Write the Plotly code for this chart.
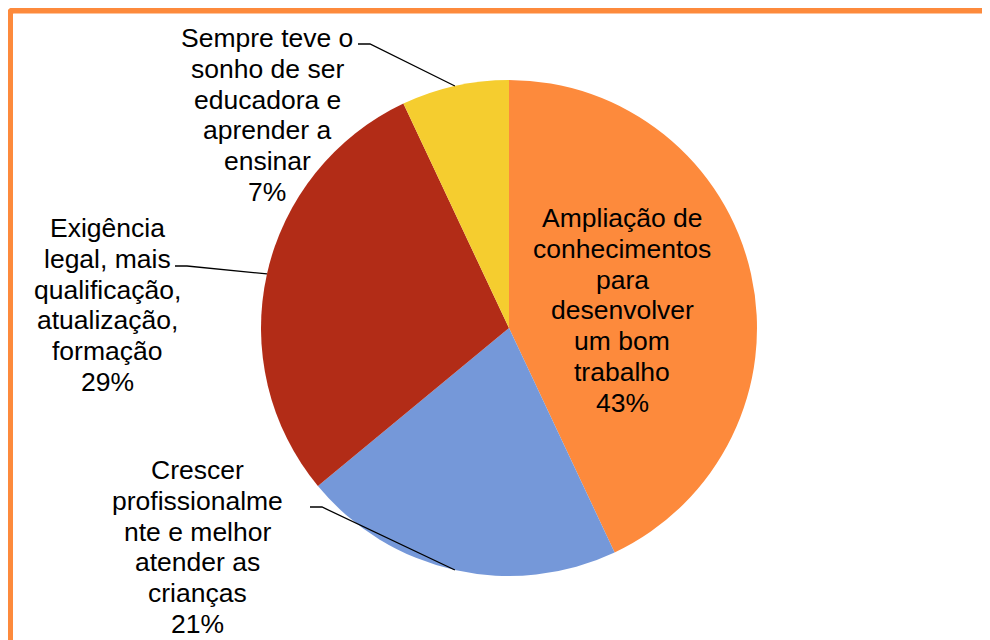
import math
import plotly.graph_objects as go

# ---- data ----
labels = [
    "Ampliação de conhecimentos para desenvolver um bom trabalho",
    "Crescer profissionalmente e melhor atender as crianças",
    "Exigência legal, mais qualificação, atualização, formação",
    "Sempre teve o sonho de ser educadora e aprender a ensinar",
]
values = [43, 21, 29, 7]
label_lines = [
    ["Ampliação de", "conhecimentos", "para", "desenvolver", "um bom", "trabalho"],
    ["Crescer", "profissionalme", "nte e melhor", "atender as", "crianças"],
    ["Exigência", "legal, mais", "qualificação,", "atualização,", "formação"],
    ["Sempre teve o", "sonho de ser", "educadora e", "aprender a", "ensinar"],
]
colors = ["#FD8A3C", "#7598D9", "#B22C17", "#F5CD2F"]

W, H = 990, 640
OFF = 8  # page body margin in the browser
CX, CY, R = 509, 328, 248

def px(x):
    return (x - OFF) / W

def py(y):
    return 1 - (y - OFF) / H

fig = go.Figure(go.Pie(
    labels=labels, values=values, sort=False, direction="clockwise",
    rotation=0, marker=dict(colors=colors, line=dict(width=0)),
    textinfo="none", hoverinfo="label+percent", showlegend=False,
    domain=dict(x=[px(CX - R), px(CX + R)], y=[py(CY + R), py(CY - R)]),
))

placement = [
    dict(x=622, y=218),
    dict(x=197, y=470),
    dict(x=107, y=228),
    dict(x=267, y=38),
]
leader_start = {1: (310, 507), 2: (175, 266), 3: (358, 44)}
LS = 30.8
FS = 26.5

total = sum(values)
annotations = []
shapes = []
cum = 0
for i, v in enumerate(values):
    pct = v / total
    mid = (cum + pct / 2) * 2 * math.pi
    cum += pct
    lines = label_lines[i] + [f"{round(pct * 100)}%"]
    p = placement[i]
    for k, t in enumerate(lines):
        annotations.append(dict(
            x=px(p["x"]), y=py(p["y"] + k * LS), xref="paper", yref="paper",
            text=t, showarrow=False, xanchor="center", yanchor="middle",
            font=dict(family="Liberation Sans, Arial", size=FS, color="#000000"),
        ))
    if i in leader_start:
        ex = CX + R * math.sin(mid)
        ey = CY - R * math.cos(mid)
        sx, sy = leader_start[i]
        kx = sx + 12 if ex > sx else sx - 12
        shapes.append(dict(
            type="path", xref="paper", yref="paper",
            path=f"M {px(sx)},{py(sy)} L {px(kx)},{py(sy)} L {px(ex)},{py(ey)}",
            line=dict(color="#000000", width=1.3),
        ))

shapes.append(dict(
    type="path", xref="paper", yref="paper",
    path=(f"M {px(10)},{py(700)} L {px(10)},{py(14)} "
          f"Q {px(10)},{py(10.5)} {px(13.5)},{py(10.5)} L {px(1010)},{py(10.5)}"),
    line=dict(color="#FD8A3C", width=6),
))

fig.update_layout(
    width=W, height=H, margin=dict(l=0, r=0, t=0, b=0),
    paper_bgcolor="#FFFFFF", plot_bgcolor="#FFFFFF",
    annotations=annotations, shapes=shapes,
)
fig.write_html("out.html")
